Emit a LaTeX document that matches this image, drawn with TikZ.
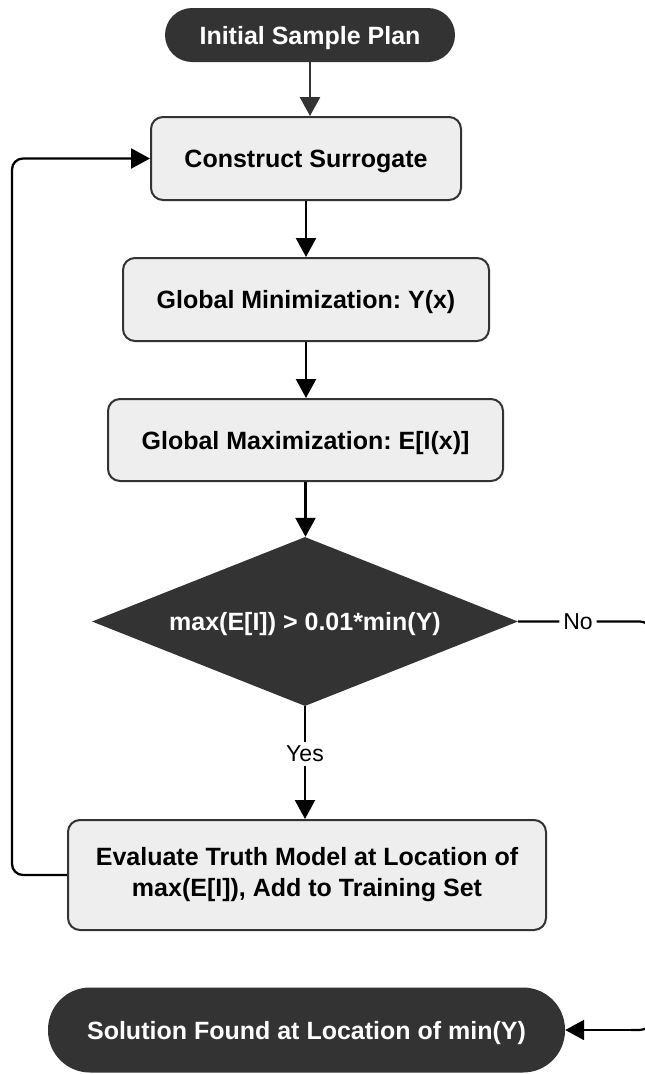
\documentclass[tikz,border=0pt]{standalone}
\usepackage{fontspec}
\setmainfont{Liberation Sans}
\usetikzlibrary{arrows.meta,shapes.geometric}
\definecolor{dark}{HTML}{333333}
\definecolor{boxfill}{HTML}{EEEEEE}
\tikzset{
  capsc/.style={text height=18pt,text depth=0pt},
  term/.style={draw=none,fill=dark,text=white,rounded corners=#1,font=\fontsize{25}{30}\selectfont\bfseries,inner sep=0pt,anchor=center,capsc},
  proc/.style={draw=dark,line width=2pt,fill=boxfill,rounded corners=12pt,font=\fontsize{25}{31}\selectfont\bfseries,inner sep=0pt,anchor=center,align=center},
  dec/.style={diamond,fill=dark,draw=none,text=white,font=\fontsize{25}{30}\selectfont\bfseries,inner sep=0pt,aspect=2.52,anchor=center,capsc},
  conn/.style={line width=2.3pt,-{Triangle[length=19pt,width=20pt]}},
  lbl/.style={fill=white,font=\fontsize{23}{28}\selectfont,inner sep=4pt}
}
\begin{document}
\frenchspacing
\begin{tikzpicture}[x=1pt,y=-1pt]
\useasboundingbox (0,0) rectangle (645,1074);
\clip (0,0) rectangle (645,1074);
\fill[white] (0,0) rectangle (645,1074);
\node[term=27pt,minimum width=290pt,minimum height=54pt] (start) at (310,35) {Initial Sample Plan};
\node[proc,capsc,minimum width=310pt,minimum height=83pt] (cs) at (306,158.5) {Construct Surrogate};
\node[proc,capsc,minimum width=366pt,minimum height=83pt] (gmin) at (306,299.5) {Global Minimization: Y(x)};
\node[proc,capsc,minimum width=395pt,minimum height=82pt] (gmax) at (305.5,440) {Global Maximization: E[I(x)]};
\node[dec,minimum width=426pt,minimum height=169pt] (dec) at (305,621.5) {max(E[I]) > 0.01*min(Y)};
\node[proc,minimum width=478pt,minimum height=110pt] (eval) at (307,875) {\rule{0pt}{18pt}Evaluate Truth Model at Location of\\max(E[I]), Add to Training Set};
\node[term=42pt,minimum width=517pt,minimum height=85pt] (sol) at (306.5,1030) {Solution Found at Location of min(Y)};
\coordinate (r1) at (651,621.5);
\coordinate (r2) at (651,1030);
\coordinate (l1) at (12,875);
\coordinate (l2) at (12,158.5);
\draw[conn,draw=dark,fill=dark,line width=2.6pt] (start.south) -- (start.south |- cs.north);
\draw[conn] (cs.south) -- (cs.south |- gmin.north);
\draw[conn] (gmin.south) -- (gmin.south |- gmax.north);
\draw[conn] (gmax.south) -- (gmax.south |- dec.north);
\draw[conn] (dec.south) -- node[lbl,pos=0.42] (yes) {Yes} (dec.south |- eval.north);
\draw[line width=2.2pt,rounded corners=11pt] (dec.east) -- node[lbl,pos=0.45] (no) {No} (r1) -- (r2) -- ++(-20,0);
\draw[conn] (r2) ++(-10,0) -- (sol.east);
\draw[conn,rounded corners=11pt] (eval.west) -- (l1) -- (l2) -- (cs.west);
\end{tikzpicture}
\end{document}
